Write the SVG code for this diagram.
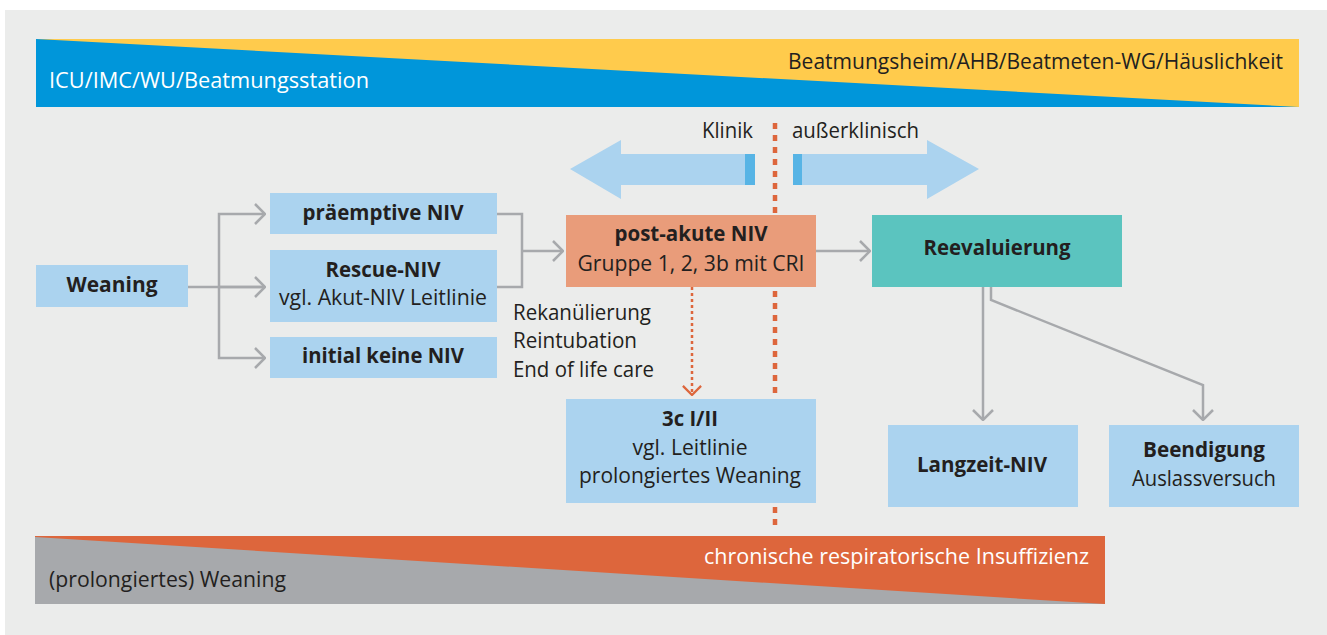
<svg xmlns="http://www.w3.org/2000/svg" width="1327" height="635" viewBox="0 0 1327 635">
  <defs>
    <style>
      text { font-family: "Open Sans", "Noto Sans", "Liberation Sans", sans-serif; font-size: 21px; fill: #231f20; }
      .b { font-weight: 700; }
      .c { text-anchor: middle; }
      .w { fill: #ffffff; }
      .box { fill: #abd3ef; }
      .conn { fill: none; stroke: #a7a9ac; stroke-width: 2.5; }
    </style>
    <marker id="chev" viewBox="0 0 12 22" refX="11" refY="11" markerWidth="12" markerHeight="22" markerUnits="userSpaceOnUse" orient="auto">
      <path d="M1,1 L11,11 L1,21" fill="none" stroke="#a7a9ac" stroke-width="2.5"/>
    </marker>
    <marker id="chevRed" viewBox="0 0 12 22" refX="11" refY="11" markerWidth="11" markerHeight="20" markerUnits="userSpaceOnUse" orient="auto">
      <path d="M1,1 L11,11 L1,21" fill="none" stroke="#dd663c" stroke-width="2.5"/>
    </marker>
  </defs>

  <!-- page background -->
  <rect x="0" y="0" width="1327" height="635" fill="#ffffff"/>
  <rect x="5" y="10" width="1322" height="625" fill="#ebeceb"/>

  <!-- top band: setting (clinic vs. home) -->
  <g id="band-top">
    <rect x="36" y="39" width="1263" height="68" fill="#ffcb4c"/>
    <polygon points="36,39 1299,107 36,107" fill="#0096da"/>
    <text x="49" y="88" class="w" textLength="320" lengthAdjust="spacingAndGlyphs">ICU/IMC/WU/Beatmungsstation</text>
    <text x="788" y="69" textLength="495" lengthAdjust="spacingAndGlyphs">Beatmungsheim/AHB/Beatmeten-WG/Häuslichkeit</text>
  </g>

  <!-- bottom band: weaning vs. chronic insufficiency -->
  <g id="band-bottom">
    <rect x="35" y="536" width="1070" height="68" fill="#dd663c"/>
    <polygon points="35,537 1105,604 35,604" fill="#a7a9ac"/>
    <text x="49" y="587" textLength="237" lengthAdjust="spacingAndGlyphs">(prolongiertes) Weaning</text>
    <text x="704" y="564" class="w" textLength="385" lengthAdjust="spacingAndGlyphs">chronische respiratorische Insuffizienz</text>
  </g>

  <!-- clinic / outpatient divider -->
  <g id="divider">
    <line x1="775" y1="123" x2="775" y2="528" stroke="#dd663c" stroke-width="4.5" stroke-dasharray="6 6"/>
    <polygon points="570,169 621,140 621,154 755,154 755,185 621,185 621,199" fill="#abd3ef"/>
    <rect x="745" y="154" width="10" height="31" fill="#57b4e5"/>
    <polygon points="979,169 927,140 927,154 793,154 793,185 927,185 927,199" fill="#abd3ef"/>
    <rect x="793" y="154" width="9" height="31" fill="#57b4e5"/>
    <text x="702" y="138" textLength="51" lengthAdjust="spacingAndGlyphs">Klinik</text>
    <text x="792" y="138" textLength="127" lengthAdjust="spacingAndGlyphs">außerklinisch</text>
  </g>

  <!-- connectors -->
  <g id="connectors">
    <path class="conn" d="M188,287 H265"/>
    <path class="conn" d="M219,287 V214 H265" marker-end="url(#chev)"/>
    <path class="conn" d="M219,287 V358 H265" marker-end="url(#chev)"/>
    <path class="conn" d="M219,287 H265" marker-end="url(#chev)"/>
    <path class="conn" d="M497,214 H522 V287 H497"/>
    <path class="conn" d="M522,251 H563" marker-end="url(#chev)"/>
    <path class="conn" d="M816,251 H870" marker-end="url(#chev)"/>
    <path class="conn" d="M983,287 V420" marker-end="url(#chev)"/>
    <path class="conn" d="M991,287 V300 L1203,385 V420" marker-end="url(#chev)"/>
    <path d="M692,287 V395" fill="none" stroke="#dd663c" stroke-width="2.5" stroke-dasharray="3 3" marker-end="url(#chevRed)"/>
  </g>

  <g id="weaning">
    <rect class="box" x="36" y="265" width="152" height="42"/>
    <text x="112" y="292" class="b c" textLength="91" lengthAdjust="spacingAndGlyphs">Weaning</text>
  </g>

  <g id="praeemptive-niv">
    <rect class="box" x="270" y="193" width="227" height="41"/>
    <text x="383" y="220" class="b c" textLength="161" lengthAdjust="spacingAndGlyphs">präemptive NIV</text>
  </g>

  <g id="rescue-niv">
    <rect class="box" x="270" y="250" width="227" height="72"/>
    <text x="383" y="277" class="b c" textLength="115" lengthAdjust="spacingAndGlyphs">Rescue-NIV</text>
    <text x="383" y="305" class="c" textLength="208" lengthAdjust="spacingAndGlyphs">vgl. Akut-NIV Leitlinie</text>
  </g>

  <g id="initial-keine-niv">
    <rect class="box" x="270" y="337" width="227" height="41"/>
    <text x="383" y="363" class="b c" textLength="162" lengthAdjust="spacingAndGlyphs">initial keine NIV</text>
  </g>

  <g id="post-akute-niv">
    <rect x="566" y="215" width="250" height="72" fill="#e99c7a"/>
    <text x="691" y="241" class="b c" textLength="153" lengthAdjust="spacingAndGlyphs">post-akute NIV</text>
    <text x="691" y="271" class="c" textLength="227" lengthAdjust="spacingAndGlyphs">Gruppe 1, 2, 3b mit CRI</text>
  </g>

  <g id="komplikationen">
    <text x="513" y="320" textLength="138" lengthAdjust="spacingAndGlyphs">Rekanülierung</text>
    <text x="513" y="348" textLength="124" lengthAdjust="spacingAndGlyphs">Reintubation</text>
    <text x="513" y="377" textLength="141" lengthAdjust="spacingAndGlyphs">End of life care</text>
  </g>

  <g id="gruppe-3c">
    <rect class="box" x="566" y="399" width="250" height="104"/>
    <text x="690" y="426" class="b c" textLength="56" lengthAdjust="spacingAndGlyphs">3c I/II</text>
    <text x="690" y="455" class="c" textLength="115" lengthAdjust="spacingAndGlyphs">vgl. Leitlinie</text>
    <text x="690" y="483" class="c" textLength="222" lengthAdjust="spacingAndGlyphs">prolongiertes Weaning</text>
  </g>

  <g id="reevaluierung">
    <rect x="872" y="215" width="250" height="72" fill="#5bc4bf"/>
    <text x="997" y="255" class="b c" textLength="147" lengthAdjust="spacingAndGlyphs">Reevaluierung</text>
  </g>

  <g id="langzeit-niv">
    <rect class="box" x="888" y="425" width="190" height="82"/>
    <text x="982" y="472" class="b c" textLength="130" lengthAdjust="spacingAndGlyphs">Langzeit-NIV</text>
  </g>

  <g id="beendigung">
    <rect class="box" x="1109" y="425" width="190" height="82"/>
    <text x="1204" y="457" class="b c" textLength="122" lengthAdjust="spacingAndGlyphs">Beendigung</text>
    <text x="1204" y="486" class="c" textLength="144" lengthAdjust="spacingAndGlyphs">Auslassversuch</text>
  </g>
</svg>
